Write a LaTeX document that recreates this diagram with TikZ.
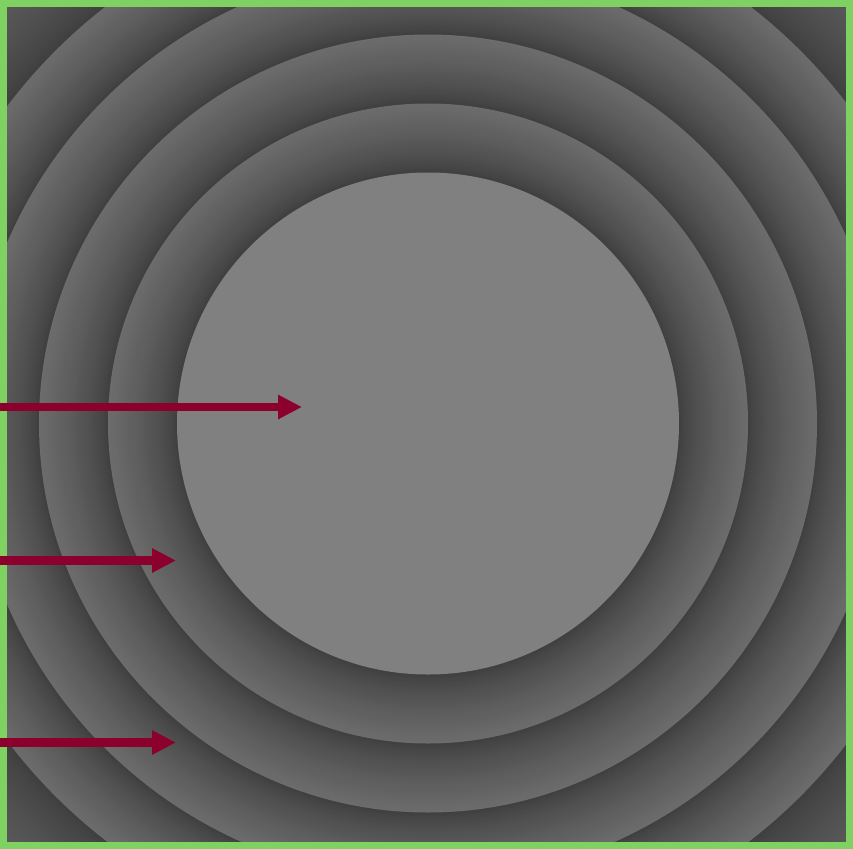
\documentclass[tikz,border=0pt]{standalone}
\usepackage{xcolor}
\usepackage{tikz}
\usetikzlibrary{
	arrows.meta,
	positioning
}
\definecolor{DarkRed}{RGB}{140,0,45}
\definecolor{LeafGreen}{RGB}{127,209,98}
\definecolor{RingLight}{RGB}{108,108,108}
\definecolor{RingDark}{RGB}{60,60,60}
\definecolor{CoreGray}{RGB}{128,128,128}

\begin{document}
\begin{tikzpicture}[x=0.02cm,y=-0.02cm,
		pointer/.style={DarkRed,line width=4.6pt,-{Triangle[length=13.6pt,width=13pt]}}]
		\useasboundingbox (0,0) rectangle (853,849);
		\coordinate (c) at (428,423.5);
		
		% 同心环，外缘亮、内缘暗
		\begin{scope}
			\clip (0,0) rectangle (853,849);
			\foreach \ro/\ri in {665/527,527/458,458/389,389/320,320/251}{
				\foreach \j in {0,...,39}{
					\pgfmathsetmacro{\rr}{\ro-(\ro-\ri)*\j/40}
					\pgfmathsetmacro{\pct}{100*(1-\j/40)^0.7}
					\fill[RingLight!\pct!RingDark] (c) circle (\rr);
				}
			}
			% 中心圆
			\fill[CoreGray] (c) circle (251);
		\end{scope}
		
		% 绿色边框
		\draw[LeafGreen,line width=3.97pt] (3.5,3.5) rectangle (849.5,845.5);
		
		% 箭头
		\coordinate (s1) at (0,407);
		\coordinate (t1) at (302,407);
		\coordinate (s2) at (0,560.5);
		\coordinate (t2) at (176,560.5);
		\coordinate (s3) at (0,742.5);
		\coordinate (t3) at (176,742.5);
		\draw[pointer] (s1) -- (t1);
		\draw[pointer] (s2) -- (t2);
		\draw[pointer] (s3) -- (t3);
	\end{tikzpicture}
\end{document}
